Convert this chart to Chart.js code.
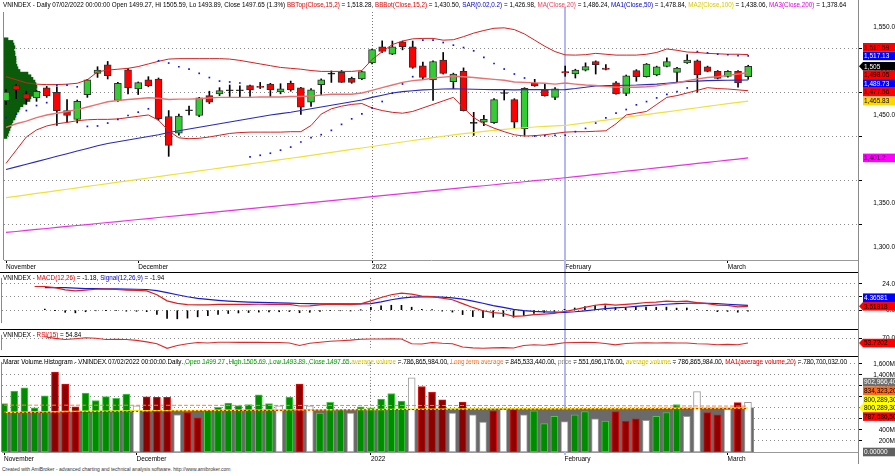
<!DOCTYPE html>
<html><head><meta charset="utf-8">
<script src="https://cdn.jsdelivr.net/npm/chart.js@4.4.1/dist/chart.umd.min.js"></script>
<style>
html,body{margin:0;padding:0;background:#fff}
#wrap{position:relative;width:895px;height:476px;overflow:hidden;font-family:"Liberation Sans",Arial,sans-serif}
#wrap canvas{position:absolute;left:0}
.hd{position:absolute;left:3px;font-size:6.3px;line-height:8px;white-space:nowrap;color:#000}
.r{color:#e00000}.b{color:#0000d0}.y{color:#d8c800}.m{color:#e000e0}.g{color:#00a000}.o{color:#ff7a30}.k{color:#888}.p{color:#e8405a}
#foot{position:absolute;left:2px;top:466px;font-size:5px;color:#333;white-space:nowrap}
</style></head><body>
<div id="wrap">
<canvas id="cMain" width="895" height="272" style="top:0"></canvas>
<canvas id="cMacd" width="895" height="57" style="top:272px"></canvas>
<canvas id="cRsi" width="895" height="27" style="top:329px"></canvas>
<canvas id="cVol" width="895" height="108" style="top:356px"></canvas>
<div class="hd" style="top:1px">VNINDEX - Daily 07/02/2022 00:00:00 Open 1499.27, Hi 1505.59, Lo 1493.89, Close 1497.65 (1.3%) <span class="r">BBTop(Close,15,2)</span> = 1,518.28, <span class="r">BBBot(Close,15,2)</span> = 1,430.50, <span class="b">SAR(0.02,0.2)</span> = 1,426.98, <span class="p">MA(Close,20)</span> = 1,486.24, <span class="b">MA1(Close,50)</span> = 1,478.84, <span class="y">MA2(Close,100)</span> = 1,438.06, <span class="m">MA3(Close,200)</span> = 1,378.64</div>
<div class="hd" style="top:274px">VNINDEX - <span class="r">MACD(12,26)</span> = -1.18, <span class="b">Signal(12,26,9)</span> = -1.94</div>
<div class="hd" style="top:331px">VNINDEX - <span class="r">RSI(15)</span> = 54.84</div>
<div class="hd" style="top:358px">Marar Volume Histogram - VNINDEX  07/02/2022 00:00:00  Daily  <span class="g">,Open 1499.27 ,High 1505.69 ,Low 1493.89 ,Close 1497.65</span> <span class="y">average volume</span> = 786,865,984.00, <span class="o">Long term average</span> = 845,533,440.00, <span class="k">price</span> = 551,696,176.00, <span class="y">average volume</span> = 786,865,984.00, <span class="r">MA1(average volume,20)</span> = 780,700,032.00</div>
<div id="foot">Created with AmiBroker - advanced charting and technical analysis software. http://www.amibroker.com</div>
</div>
<script>
// trục thời gian
const selBar = 55;
const yearIdx = 36;
const monthIdx = [0, 13, 36, 55, 71];
const monthLbl = ['November', 'December', '2022', 'February', 'March'];

// giá
const openP = [1466,1483.3,1474,1469.4,1480.7,1475.8,1455,1444.9,1473.2,1497.2,
  1507,1466.4,1501.4,1479.6,1489.8,1490.9,1448.3,1429.4,1455.2,1449.4,
  1472,1474,1477.9,1477.9,1483.3,1482.5,1485.2,1476.2,1486,1480.7,
  1464.5,1484.5,1496.6,1498.4,1491.6,1490.9,1509,1527.4,1519.1,1533,
  1527.4,1505.9,1489.8,1512.3,1487.9,1499.5,1440.9,1441.9,1441.2,1474.8,
  1467.5,1434.4,1486,1478.5,1470,1499.27,1496.5,1501,1510.8,1503.3,
  1486.4,1474.6,1500.3,1493.5,1495.4,1505.1,1498.4,1509,1511.6,1504.8,
  1499.5,1493.8,1499.5,1493.5];
const highP = [1479,1484.5,1477,1478.5,1482.5,1482,1467.5,1467,1490.5,1504.8,
  1510.8,1487,1502.9,1487.5,1493.5,1492,1455,1451,1460,1470,
  1477,1481,1484,1483,1484,1487,1486,1485.5,1488.5,1481.5,
  1480,1491,1500,1500.5,1493,1500,1525,1534.2,1534,1534,
  1534,1510,1511.5,1521,1497.5,1503.5,1453,1449.6,1468.5,1479,
  1468.5,1481,1490.5,1486,1481,1505.59,1502,1509.2,1511.5,1507.2,
  1488,1495.4,1501.5,1508.5,1505.5,1515,1504,1518.5,1512.5,1505.5,
  1500.5,1500.5,1500.5,1506.5];
const lowP = [1462,1468.6,1462,1465.5,1470,1438,1441.9,1441,1470,1492.7,
  1490.9,1465.5,1474,1473.2,1482,1444,1403,1427,1450,1448,
  1463,1472,1471,1470.5,1471,1480,1471,1474,1477,1450.6,
  1459.6,1473.2,1487,1487,1486,1490,1508,1521,1518.5,1524,
  1503,1490,1466.4,1496.5,1480,1454.5,1426.8,1437.7,1440.5,1467,
  1435.5,1426.8,1482.5,1471.5,1467.3,1493.89,1492,1500,1496.5,1501.3,
  1473.5,1472,1488.3,1493,1494.5,1504.5,1487,1508.5,1475.8,1499,
  1491,1493,1481.5,1490.5];
const closeP = [1476,1478.5,1468.3,1477,1472,1455,1449.4,1465.6,1489.8,1501,
  1494.6,1486,1480.7,1486.7,1483.3,1445.7,1415.5,1448.6,1454.8,1469.4,
  1464.5,1477.7,1477.5,1477.5,1478.5,1481.4,1478.8,1479.6,1478.8,1458.8,
  1478.5,1489.8,1496.4,1487,1487,1499.2,1524.3,1522.1,1527.4,1527.7,
  1504,1492.7,1510.8,1497.2,1496.5,1455,1440.5,1444.9,1467.5,1474.4,
  1441.9,1480.3,1483,1472,1479.6,1497.65,1501,1505.1,1507.1,1501.7,
  1474,1494.6,1493.5,1507.8,1504.8,1510.8,1503.3,1512.3,1495.4,1499.5,
  1491.6,1499.5,1486.4,1505.3];

// Bollinger(15,2), SAR, MA
const bbUp = [1493.5,1490,1486.5,1485,1484.5,1484.5,1485,1486,1490,1499,
  1501,1502,1503,1505,1508,1511,1513.5,1514,1514,1514,
  1514,1514,1513.5,1512,1510,1508,1506,1504,1503,1502,
  1500.5,1499.5,1499.5,1499.5,1499.5,1500.5,1513,1522,1530,1534,
  1536.5,1537,1537,1535,1535.5,1539,1543,1546,1548.5,1549,
  1547,1542,1535,1528,1522,1518.28,1518,1518.5,1520,1519,
  1518,1518,1518,1519,1521,1525,1523.5,1521.5,1521,1520,
  1519.5,1519,1519,1518.59];
const bbLo = [1395,1410,1425,1433,1437.5,1440,1441.5,1443.5,1444.5,1445,
  1445,1445.5,1447,1448.5,1450,1444,1432,1424,1423,1423.5,
  1425,1427,1429,1430,1430.5,1430.5,1430.5,1430.5,1431,1431,
  1438,1451,1457,1460,1462,1463,1458,1455,1453,1452,
  1454,1458,1462,1466,1470,1458,1447,1440,1435,1431,
  1427.5,1426,1426.5,1427.5,1429,1430.5,1431,1431,1431.5,1432,
  1440,1450,1452,1454,1462,1470,1472,1475,1478,1481,
  1480,1479.5,1478.5,1477.56];
const sar = [1447,1451,1455,1460.7,1464,1484,1484,1482,1437,1437.5,
  1440.8,1445,1449.4,1453.2,1457,1511.6,1509,1504.8,1502.2,1497.3,
  1492.5,1488.5,1487.5,1486.3,1402.3,1404.2,1406.5,1410,1413.5,1419.3,
  1424.2,1427.6,1432.5,1439.3,1445.6,1451.3,1458,1465.3,1474.7,1485.2,
  1493.5,1535,1535,1532.3,1529.3,1526.6,1522.9,1515.4,1508.5,1502.2,
  1496.5,1492,1426,1426.5,1426.8,1426.98,1431,1434.7,1440.8,1446.8,
  1452,1456.2,1461.5,1465.2,1469.4,1473.5,1476.5,1480.7,1522,1520.6,
  1519.1,1518.4,1517.5,1517.13];
const ma20 = [1436,1440,1443,1447,1450,1452,1454,1456,1459,1462,
  1465,1466.5,1467.5,1468.5,1469.5,1469,1467.5,1468,1468,1468.5,
  1469.3,1470,1470,1470,1470,1470.5,1470.5,1470.5,1471,1471,
  1471.5,1472.5,1473.5,1473.5,1473.5,1475,1478,1481,1484,1487,
  1489,1490,1492,1493,1494,1493.5,1492.5,1491.5,1490.5,1489.5,
  1487.5,1487,1486.5,1486,1485,1486.24,1485,1484,1483.5,1482.5,
  1481.5,1481.5,1481.5,1482,1483,1485,1486.5,1489,1491,1492.5,
  1493.5,1495,1496.5,1498.05];
const ma50 = [1388,1391,1394,1397,1400,1403,1406,1409,1412,1415,
  1417.5,1419.5,1421.5,1423.5,1425.5,1427.5,1430,1432,1434,1436,
  1438,1440,1442,1444,1446,1448,1450,1451.5,1453,1455,
  1457,1459,1461,1463,1465,1467,1470,1472.5,1475,1476.5,
  1477.5,1478.5,1479,1479.5,1479.6,1479.5,1479.3,1479,1478.8,1478.8,
  1478.5,1478.8,1479,1478.8,1478.6,1478.84,1480,1481.5,1483,1483.3,
  1483.5,1483.8,1484,1484.5,1485,1486,1487,1488,1488.5,1489,
  1489.3,1489.5,1489.6,1489.73];
const ma100 = [1356,1357.6,1359.2,1360.8,1362.4,1364,1365.6,1367.2,1368.8,1370.4,
  1372,1373.6,1375.2,1376.8,1378.4,1380,1381.6,1383.2,1384.8,1386.4,
  1388,1389.6,1391.2,1392.8,1394.4,1396,1397.6,1399.2,1400.8,1402.3,
  1404,1405.7,1407.4,1409.1,1410.8,1412.5,1414.2,1415.9,1417.6,1419.3,
  1421,1422.6,1424.2,1425.8,1427.3,1428.7,1430,1431.3,1432.5,1433.6,
  1434.6,1435.5,1436.3,1437,1437.6,1438.06,1439.6,1441.1,1442.7,1444.2,
  1445.8,1447.3,1448.9,1450.4,1452,1453.5,1455.1,1456.6,1458.2,1459.7,
  1461.3,1462.8,1464.3,1465.83];
const ma200 = [1316.5,1317.6,1318.8,1319.9,1321,1322.2,1323.3,1324.4,1325.5,1326.7,
  1327.8,1328.9,1330.1,1331.2,1332.3,1333.5,1334.6,1335.7,1336.8,1338,
  1339.1,1340.2,1341.4,1342.5,1343.6,1344.8,1345.9,1347,1348.1,1349.3,
  1350.4,1351.5,1352.7,1353.8,1354.9,1356.1,1357.2,1358.3,1359.4,1360.6,
  1361.7,1362.8,1364,1365.1,1366.2,1367.4,1368.5,1369.6,1370.7,1371.9,
  1373,1374.1,1375.3,1376.4,1377.5,1378.64,1379.9,1381.1,1382.4,1383.6,
  1384.9,1386.1,1387.4,1388.6,1389.9,1391.1,1392.4,1393.6,1394.9,1396.1,
  1397.4,1398.6,1399.9,1401.2];

// volume profile (giá, khối lượng tương đối)
const vpPrice = [1425,1428,1431,1434,1437,1440,1443,1446,1449,1452,1455,1458,1461,1464,1467,1470,1473,1476,1479,
  1482,1485,1488,1491,1494,1497,1500,1503,1506,1509,1512,1515,1518,1521,1524,1527,1530,1533,1536];
const vpVol = [3,4,5,6,7,8,9,11,12,13,15,16,19,22,26,27,29,30,32,
  33,32,31,29,27,24,16,14,13,12,12,12,11,11,10,11,10,9,4];
const vpAxisMax = 855;

// MACD, RSI
const macd = [null,null,null,21.5,21.5,20.5,18.5,17.6,18.2,19,
  19.2,18.8,18.3,18,17.5,14,8.5,6.2,5,4.8,
  4.8,5.2,5.3,5.3,5.3,5.4,5.3,5.2,5.2,3.8,
  4,4.8,5.5,5.3,5,5.8,8.5,11.5,14,15.4,
  14.5,12.8,12.3,11,9.5,6,2.5,-0.5,-2.2,-3,
  -5.6,-5.2,-4,-3.5,-2.8,-1.18,0.6,2.6,4.5,5.5,
  4.6,5.2,6,7,7.4,8.2,7.8,8.3,6.9,5.9,
  4.6,4.3,3.1,3.51818];
const signal = [null,null,null,null,20.5,20.6,20.4,20,19.6,19.5,
  19.4,19.3,19.2,19,18.8,17.8,16,14,12.2,10.8,
  9.8,9,8.3,7.8,7.4,7.1,6.8,6.6,6.4,6.1,
  5.9,5.8,5.8,5.8,5.7,5.7,6,7.5,9.5,11,
  11.8,12,12,11.8,11.2,10,8.3,6.3,4.2,2.6,
  0.8,-0.4,-1.1,-1.5,-1.8,-1.94,-1.4,-0.6,0.4,1.4,
  2.1,2.7,3.4,4.1,4.7,5.4,5.9,6.3,6.4,6.3,
  5.9,5.4,4.9,4.36581];
const macdHist = [null,null,null,null,1,-0.1,-1.9,-2.4,-1.4,-0.5,
  -0.2,-0.5,-0.9,-1,-1.3,-3.8,-7.5,-7.8,-7.2,-6,
  -5,-3.8,-3,-2.5,-2.1,-1.7,-1.5,-1.4,-1.2,-2.3,
  -1.9,-1,-0.3,-0.5,-0.7,0.1,2.5,4,4.5,4.4,
  2.7,0.8,0.3,-0.8,-1.7,-4,-5.8,-6.8,-6.4,-5.6,
  -6.4,-4.8,-2.9,-2,-1,0.76,2,3.2,4.1,4.1,
  2.5,2.5,2.6,2.9,2.7,2.8,1.9,2,0.5,-0.4,
  -1.3,-1.1,-1.8,-0.85];
const rsi = [null,null,null,null,76,70,66,69,72,70.5,
  66,67,66,63,58,51.6,35.3,45,51.6,55.7,
  54,56.5,56.5,56,56,56.5,55.7,55.7,54,45.5,
  53,56.5,60,62,64,67,68,68,68.5,68,
  51.6,50.5,55.7,53,51.6,40,37,35.5,37,38,
  36.5,45,48,46,50,54.84,55.5,56,55.7,52,
  47.6,52,53.7,54.5,54,54.5,53.7,54,51.5,50.5,
  47.6,49,47.6,53.7202];

// khối lượng (triệu)
const vol = [879,1109,1167,805,1023,1454,1236,822,1069,937,
  1006,977,1052,839,1005,994,994,678,718,620,
  764,810,891,845,862,1040,879,839,1000,1236,
  839,707,902,776,707,822,805,960,1063,925,
  1350,1190,1086,948,707,908,678,546,747,776,
  776,678,747,517,650,552,678,736,603,563,
  736,563,603,574,650,718,862,650,1098,718,
  678,776,897,902.9664];
const volType = 'gggggrrrgggggwrrrwrrgggggggwgrwgggwgggggwrrrwrwwrwrwgggwggwgrrrwgggwwrrwrw';
const avgVol = [720,722,725,728,730,733,736,738,740,742,744,746,748,
  750,751,752,753,754,755,756,757,758,759,760,761,762,763,764,765,766,767,
  768,769,770,771,772,773,774,775,776,777,778,779,780,
  781,782,783,783,784,784,785,785,786,786,786.5,786.87,
  787,788,789,790,790,791,792,793,794,795,796,797,798,798.5,799,799.5,800,800.2893];
const longAvg = [852,852,852,851.5,851.5,851,851,851,850.5,850.5,
  850,850,850,849.5,849.5,849,849,849,848.5,848.5,
  848,848,848,847.5,847.5,847.5,847,847,847,847,
  846.5,846.5,846.5,846.5,846,846,846,846,846,846,
  846,846,845.8,845.8,845.8,845.7,845.7,845.7,845.6,845.6,
  845.6,845.6,845.5,845.5,845.5,845.53,845,844.3,843.6,843,
  842.3,841.6,841,840.3,839.6,839,838.3,837.6,837,836.3,
  835.6,835,834.6,834.3232];
const ma1Avg = [712,714,716,718,720,722,724,726,728,730,
  732,734,736,738,740,741.5,743,744.5,746,747.5,
  749,750.5,752,753.5,755,756,757,758,759,760,
  761,762,763,764,765,766,767,768,769,770,
  771,772,773,774,775,775.5,776,776.5,777,777.5,
  778,778.5,779,779.5,780,780.7,781,781.5,782,782.5,
  783,783.4,783.8,784.2,784.6,785,785.4,785.8,786.2,786.6,
  787,787.3,787.5,787.6865];
const zeroSeries = 0;

// ----- vẽ -----
Chart.defaults.font.family = '"Liberation Sans", Arial, sans-serif';
Chart.defaults.color = '#000';
const X_MIN = -0.2, X_MAX = 83.8;
const last = a => a[a.length - 1];
const at = a => a.map((v, i) => ({x: i, y: v}));
const fmtN = (v, d) => v.toLocaleString('en-US', {minimumFractionDigits: d, maximumFractionDigits: d});
const UP = '#33cc33', DN = '#ff0000';

const deco = {
  id: 'deco',
  beforeDatasetsDraw(c, a, o) {
    const ctx = c.ctx, x = Math.round(c.scales.x.getPixelForValue(selBar));
    const t = o.selTop || 0, b = o.selBottom || c.height;
    ctx.save();
    ctx.fillStyle = '#b4b8f2';
    ctx.fillRect(x - 1, t, 2, b - t);
    ctx.restore();
  },
  afterDraw(c, a, o) {
    const ctx = c.ctx, ca = c.chartArea, ys = c.scales.y;
    ctx.save();
    ctx.lineWidth = 1;
    ctx.strokeStyle = '#8a8a8a';
    ctx.beginPath(); ctx.moveTo(ca.right + .5, 0); ctx.lineTo(ca.right + .5, c.height); ctx.stroke();
    ctx.beginPath(); ctx.moveTo(ca.left - .5, ca.top); ctx.lineTo(ca.left - .5, ca.bottom); ctx.stroke();
    if (o.topLine) {
      ctx.strokeStyle = '#000';
      ctx.beginPath(); ctx.moveTo(0, .5); ctx.lineTo(ca.right, .5); ctx.stroke();
    }
    const h = 8.6;
    const bs = (o.boxes || []).map(b => Object.assign({}, b, {y: ys.getPixelForValue(b.v)}));
    bs.sort((p, q) => p.y - q.y);
    let k = bs.findIndex(b => b.arrow);
    if (k < 0) k = 0;
    for (let j = k - 1; j >= 0; j--) bs[j].y = Math.min(bs[j].y, bs[j + 1].y - h);
    for (let j = k + 1; j < bs.length; j++) bs[j].y = Math.max(bs[j].y, bs[j - 1].y + h);
    ctx.font = '6.5px "Liberation Sans", Arial';
    ctx.textBaseline = 'middle';
    ctx.textAlign = 'left';
    bs.forEach(b => {
      const x0 = ca.right + 5, top = b.y - h / 2;
      ctx.fillStyle = b.bg;
      ctx.fillRect(x0, top, c.width - x0, h);
      if (b.arrow) {
        ctx.beginPath(); ctx.moveTo(ca.right + 1, b.y); ctx.lineTo(x0, top); ctx.lineTo(x0, top + h); ctx.closePath(); ctx.fill();
      }
      ctx.save();
      ctx.beginPath(); ctx.rect(x0, top, c.width - x0, h); ctx.clip();
      ctx.fillStyle = b.fg;
      ctx.fillText(b.t, x0 + 1, b.y + .5);
      ctx.restore();
    });
    ctx.restore();
  }
};

function xAxis(labels, h) {
  return {
    type: 'linear', min: X_MIN, max: X_MAX, offset: false,
    afterBuildTicks: s => { s.ticks = monthIdx.map(v => ({value: v})); },
    afterFit: s => { s.height = h; },
    ticks: {display: labels, autoSkip: false, maxRotation: 0, align: 'start', padding: 0,
      font: {size: 6.5}, color: '#000', callback: (v, i) => monthLbl[i]},
    grid: {offset: false, drawTicks: labels, tickLength: 3, tickColor: '#000', lineWidth: 1,
      color: c => c.tick && c.tick.value === yearIdx ? '#777' : 'rgba(0,0,0,0)'},
    border: {display: labels, color: '#999', dash: [1, 2]}
  };
}
function yAxis(min, max, ticks, fmt) {
  return {
    position: 'right', min, max, offset: false,
    afterBuildTicks: s => { s.ticks = ticks.map(v => ({value: v})); },
    afterFit: s => { s.width = 37; },
    ticks: {crossAlign: 'far', padding: 2, font: {size: 6.5}, color: '#000', callback: fmt},
    grid: {color: '#8c8c8c', lineWidth: 1, tickLength: 4, tickColor: '#000'},
    border: {display: true, color: '#8a8a8a', dash: [1, 3]}
  };
}
function cfg(datasets, scales, pad, decoOpts) {
  return {
    type: 'bar',
    data: {datasets},
    options: {
      responsive: false, animation: false, events: [],
      layout: {padding: pad},
      plugins: {legend: {display: false}, tooltip: {enabled: false}, deco: decoOpts},
      scales
    },
    plugins: [deco]
  };
}
const line = (arr, color, w, order, dash) => ({type: 'line', data: at(arr), borderColor: color, borderWidth: w,
  pointRadius: 0, fill: false, tension: 0, order, borderDash: dash || []});

// khung giá
const bodyCol = openP.map((o, i) => closeP[i] > o + 0.5 ? UP : closeP[i] < o - 0.5 ? DN : '#000');
new Chart(document.getElementById('cMain'), cfg([
  {type: 'bar', indexAxis: 'y', xAxisID: 'xp', yAxisID: 'y', data: vpPrice.map((p, k) => ({x: vpVol[k], y: p})),
    backgroundColor: '#0a5c0a', barThickness: 3, grouped: false, order: 20},
  {type: 'bar', data: lowP.map((l, i) => ({x: i, y: [l, highP[i]]})), backgroundColor: '#000',
    barThickness: 1, grouped: false, order: 12},
  {type: 'bar', data: openP.map((o, i) => ({x: i, y: [o, closeP[i]]})), backgroundColor: bodyCol,
    borderColor: '#303030', borderWidth: 1, borderSkipped: false, barThickness: 7, minBarLength: 1,
    grouped: false, order: 11},
  line(ma200, '#e633e0', 1.2, 6),
  line(ma100, '#ece23a', 1.2, 6),
  line(ma50, '#2a2ab8', 1.1, 5),
  line(bbLo, '#d42020', 1, 4),
  line(bbUp, '#d42020', 1, 4),
  line(ma20, '#e87272', 1.4, 4),
  {type: 'line', data: at(sar), showLine: false, pointRadius: 1.2, pointStyle: 'rect',
    pointBackgroundColor: '#1515e0', pointBorderWidth: 0, order: 1}
], {
  x: xAxis(true, 12),
  xp: {type: 'linear', axis: 'x', display: false, min: 0, max: vpAxisMax, offset: false},
  y: yAxis(1285.2, 1567, [1300, 1350, 1400, 1450, 1500, 1550], v => fmtN(v, 1))
}, {left: 2, right: 0, top: 12, bottom: 0}, {
  selTop: 7,
  boxes: [
    {v: last(bbUp), bg: '#ff0000', fg: '#000', t: fmtN(last(bbUp), 2)},
    {v: last(sar), bg: '#0000ff', fg: '#fff', t: fmtN(last(sar), 2)},
    {v: last(closeP), bg: '#000', fg: '#fff', t: fmtN(last(closeP), 0), arrow: true},
    {v: last(ma20), bg: '#ff0000', fg: '#000', t: fmtN(last(ma20), 2)},
    {v: last(ma50), bg: '#0000ff', fg: '#fff', t: fmtN(last(ma50), 2)},
    {v: last(bbLo), bg: '#ff0000', fg: '#000', t: fmtN(last(bbLo), 2)},
    {v: last(ma100), bg: '#ffd700', fg: '#000', t: fmtN(last(ma100), 2)},
    {v: last(ma200), bg: '#ff00ff', fg: '#000', t: fmtN(last(ma200), 1)}
  ]
}));

// MACD
new Chart(document.getElementById('cMacd'), cfg([
  {type: 'bar', data: at(macdHist), backgroundColor: '#000', barThickness: 1, grouped: false, order: 10},
  line(signal, '#1a1ad0', 1.2, 3),
  line(macd, '#e02020', 1.2, 2)
], {
  x: xAxis(false, 0),
  y: yAxis(-11.7, 29.3, [24, 18, 12, 6, 0, -6], v => fmtN(v, 1))
}, {left: 2, right: 0, top: 1, bottom: 0}, {
  topLine: true,
  boxes: [
    {v: last(signal), bg: '#0000ff', fg: '#fff', t: fmtN(last(signal), 5)},
    {v: last(macd), bg: '#ff0000', fg: '#000', t: fmtN(last(macd), 5), arrow: true}
  ]
}));

// RSI
new Chart(document.getElementById('cRsi'), cfg([
  line(rsi, '#e02a2a', 1.1, 1)
], {
  x: xAxis(false, 0),
  y: yAxis(29.2, 82.2, [70], v => fmtN(v, 1))
}, {left: 2, right: 0, top: 1, bottom: 0}, {
  topLine: true,
  boxes: [{v: last(rsi), bg: '#ff0000', fg: '#000', t: fmtN(last(rsi), 4), arrow: true}]
}));

// Volume
const vFill = {g: '#008c00', r: '#8b0000', w: '#ffffff'};
const vEdge = {g: '#40d040', r: '#e01010', w: '#9a9a9a'};
const big = v => fmtN(v * 1e6, 2);
new Chart(document.getElementById('cVol'), cfg([
  {type: 'bar', data: at(avgVol), backgroundColor: '#6a6a6a', barThickness: 11, grouped: false, order: 20},
  {type: 'bar', data: at(vol), backgroundColor: vol.map((_, i) => vFill[volType[i]]),
    borderColor: vol.map((_, i) => vEdge[volType[i]]), borderWidth: 1, borderSkipped: false,
    barThickness: 7, grouped: false, order: 10},
  line(avgVol, '#f2f200', 1.4, 3),
  line(longAvg, '#ff8030', 1, 2, [4, 2]),
  line(ma1Avg, '#e00000', 1, 1, [2, 2])
], {
  x: xAxis(true, 12),
  y: yAxis(0, 1638, [200, 400, 600, 800, 1000, 1200, 1400, 1600], v => fmtN(v, 0) + 'M')
}, {left: 2, right: 0, top: 1, bottom: 0}, {
  topLine: true, selBottom: 99,
  boxes: [
    {v: last(vol), bg: '#6e6e6e', fg: '#fff', t: big(last(vol))},
    {v: last(longAvg), bg: '#ff6a1a', fg: '#000', t: big(last(longAvg))},
    {v: last(avgVol), bg: '#ffff00', fg: '#000', t: big(last(avgVol))},
    {v: last(avgVol), bg: '#ffff00', fg: '#000', t: big(last(avgVol)), arrow: true},
    {v: last(ma1Avg), bg: '#ff0000', fg: '#000', t: big(last(ma1Avg))},
    {v: zeroSeries, bg: '#606060', fg: '#fff', t: fmtN(zeroSeries, 5)}
  ]
}));
</script>
</body></html>
